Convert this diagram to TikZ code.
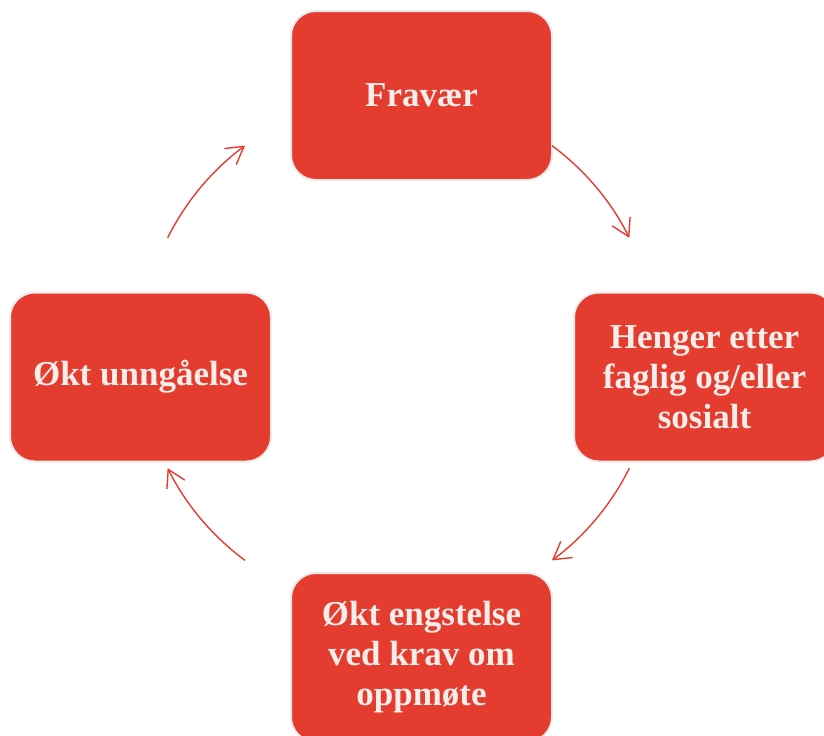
\documentclass[tikz,border=0pt]{standalone}
\usepackage{fontspec}
\setmainfont{Liberation Serif}
\usetikzlibrary{arrows.meta,positioning,calc}
\definecolor{boxred}{HTML}{E43C2F}
\definecolor{boxtext}{HTML}{F4EDE9}
\definecolor{boxrim}{HTML}{EDEBEA}

\begin{document}
\begin{tikzpicture}[x=0.5pt,y=0.5pt]
		\useasboundingbox (0,0) rectangle (824,-735);
		\begin{scope}[every node/.style={rectangle,rounded corners=12.5pt,fill=boxred,draw=boxrim,line width=1pt,
				minimum width=130.5pt,minimum height=84.5pt,inner sep=0pt,align=center,text=boxtext,
				font=\fontsize{17.5}{20}\selectfont\bfseries}]
			\node (frav) at (421.5,-95.5) {Fravær};
			\node (heng) at (704.5,-377) {Henger etter\\faglig og/eller\\sosialt};
			\node (engs) at (421.5,-657.5) {Økt engstelse\\ved krav om\\oppmøte};
			\node (unng) at (140.5,-377) {Økt unngåelse};
		\end{scope}
		\coordinate (mid) at (398.5,-353);
		\coordinate (a1) at ($(mid)+(53.5:258)$);
		\coordinate (a2) at ($(mid)+(-26.5:258)$);
		\coordinate (a3) at ($(mid)+(-126.5:258)$);
		\coordinate (a4) at ($(mid)+(153.5:258)$);
		\begin{scope}[every path/.style={draw=boxred,line width=0.7pt,-{Straight Barb[length=8.5pt,width=10pt]}}]
			\path (a1) arc[start angle=53.5,end angle=26.5,radius=258];
			\path (a2) arc[start angle=-26.5,end angle=-53.5,radius=258];
			\path (a3) arc[start angle=-126.5,end angle=-153.5,radius=258];
			\path (a4) arc[start angle=153.5,end angle=126.5,radius=258];
		\end{scope}
	\end{tikzpicture}
\end{document}
